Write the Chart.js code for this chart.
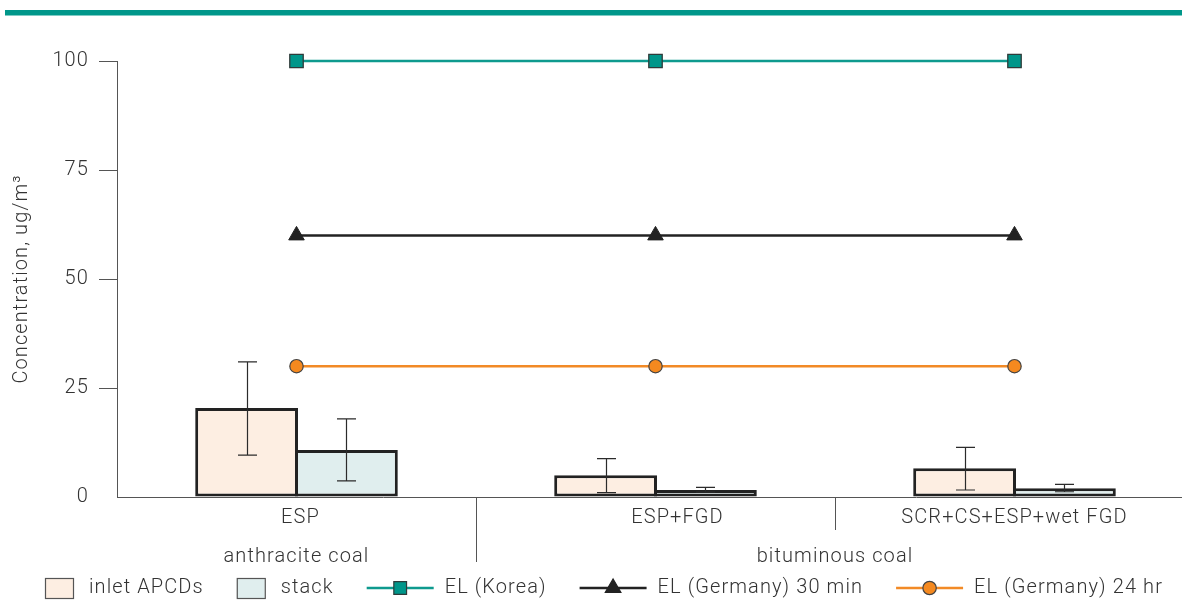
<!DOCTYPE html>
<html>
<head>
<meta charset="utf-8">
<script src="https://cdn.jsdelivr.net/npm/chart.js@4/dist/chart.umd.min.js"></script>
<style>
  html, body { margin: 0; padding: 0; background: #fff; overflow: hidden; }
  #wrap { width: 1182px; height: 601px; position: relative; }
</style>
</head>
<body>
<div id="wrap"><canvas id="c" width="1182" height="601"></canvas></div>
<script>
// Control configurations and coal types
const categories = ['ESP', 'ESP+FGD', 'SCR+CS+ESP+wet FGD'];
const coalTypes = ['anthracite coal', 'bituminous coal'];
const coalFirstIndex = [0, 1];
const coalLastIndex = [0, 2];

// Measured concentrations (ug/m³) with error ranges
const inletValues = [20.4, 5.0, 6.6];
const inletLow    = [9.6, 1.0, 1.6];
const inletHigh   = [31.0, 8.8, 11.4];
const stackValues = [10.8, 1.6, 2.0];
const stackLow    = [3.7, 1.1, 1.2];
const stackHigh   = [17.9, 2.2, 2.9];

// Emission limits
const limitKorea     = [100, 100, 100];
const limitGermany30 = [60, 60, 60];
const limitGermany24 = [30, 30, 30];

const yTickValues = [0, 25, 50, 75, 100];

// Horizontal nudge (px) of each configuration label from its group centre
const categoryLabelNudge = [4, 22, 0];

const FONT = "Roboto, 'Liberation Sans', Arial, sans-serif";
const FONT_SIZE = 20;
const FONT_WEIGHT = 300;
const LETTER_SPACING = '1.1px';
const TEXT = '#333333';
const AXIS = '#555555';
const TEAL = '#0e9a8e';
const ORANGE = '#f28a26';
const DARK = '#222222';

const toPoints = arr => arr.map((v, i) => ({ x: i, y: v }));

// Top decorative band; also sets the tracking used by all canvas text
const bandPlugin = {
  id: 'band',
  beforeDraw(chart) {
    const c = chart.ctx;
    c.letterSpacing = LETTER_SPACING;
    c.save();
    c.fillStyle = '#00978a';
    c.fillRect(5, 10, chart.width - 5, 5.5);
    c.restore();
  }
};

// Error bars on the bar datasets
const errorBarPlugin = {
  id: 'errorBars',
  afterDatasetsDraw(chart) {
    const c = chart.ctx, ys = chart.scales.y, cap = 9.5;
    chart.data.datasets.forEach((ds, di) => {
      if (!ds.errorLow) return;
      const meta = chart.getDatasetMeta(di);
      meta.data.forEach((bar, i) => {
        const x = Math.round(bar.x) + 0.5;
        const y1 = ys.getPixelForValue(ds.errorLow[i]);
        const y2 = ys.getPixelForValue(ds.errorHigh[i]);
        c.save();
        c.strokeStyle = '#2b2b2b';
        c.lineWidth = 1.2;
        c.beginPath();
        c.moveTo(x, y1); c.lineTo(x, y2);
        c.moveTo(x - cap, y1); c.lineTo(x + cap, y1);
        c.moveTo(x - cap, y2); c.lineTo(x + cap, y2);
        c.stroke();
        c.restore();
      });
    });
  }
};

// Configuration labels, separators and coal-type labels below the axis
const groupPlugin = {
  id: 'groups',
  afterDraw(chart) {
    const c = chart.ctx, xs = chart.scales.x, base = chart.chartArea.bottom;
    c.save();
    c.strokeStyle = AXIS;
    c.lineWidth = 1;
    for (let i = 0; i < categories.length - 1; i++) {
      const x = Math.round(xs.getPixelForValue(i + 0.5)) + 0.5;
      const boundary = coalLastIndex.includes(i);
      c.beginPath();
      c.moveTo(x, base);
      c.lineTo(x, base + (boundary ? 65 : 33));
      c.stroke();
    }
    c.fillStyle = TEXT;
    c.font = `${FONT_WEIGHT} ${FONT_SIZE}px ${FONT}`;
    c.textAlign = 'center';
    c.textBaseline = 'middle';
    categories.forEach((name, i) => {
      c.fillText(name, xs.getPixelForValue(i) + categoryLabelNudge[i], base + 21);
    });
    coalTypes.forEach((name, k) => {
      const x = (xs.getPixelForValue(coalFirstIndex[k]) + xs.getPixelForValue(coalLastIndex[k])) / 2;
      c.fillText(name, x, base + 60);
    });
    c.restore();
  }
};

// Legend with bar swatches and line+marker samples
function drawMarker(c, style, x, y, r, fill, stroke) {
  c.save();
  c.fillStyle = fill;
  c.strokeStyle = stroke;
  c.lineWidth = 1.2;
  c.beginPath();
  if (style === 'rect') {
    const s = r * Math.SQRT1_2;
    c.rect(x - s, y - s, 2 * s, 2 * s);
  } else if (style === 'triangle') {
    c.moveTo(x, y - r);
    c.lineTo(x + r * Math.sin(Math.PI / 3), y + r / 2);
    c.lineTo(x - r * Math.sin(Math.PI / 3), y + r / 2);
    c.closePath();
  } else {
    c.arc(x, y, r, 0, Math.PI * 2);
  }
  c.fill();
  c.stroke();
  c.restore();
}

const legendPlugin = {
  id: 'customLegend',
  afterDraw(chart) {
    const c = chart.ctx;
    const y = 588;
    let x = 45;
    c.save();
    c.font = `${FONT_WEIGHT} ${FONT_SIZE}px ${FONT}`;
    c.textBaseline = 'middle';
    c.textAlign = 'left';
    chart.data.datasets.forEach(ds => {
      if (ds.type === 'line') {
        c.strokeStyle = ds.borderColor;
        c.lineWidth = 2.5;
        c.beginPath();
        c.moveTo(x, y); c.lineTo(x + 67, y);
        c.stroke();
        drawMarker(c, ds.pointStyle, x + 33.5, y, ds.legendRadius, ds.pointBackgroundColor, ds.pointBorderColor);
        x += 67 + 11;
      } else {
        c.fillStyle = ds.backgroundColor;
        c.fillRect(x, y - 10, 28, 20);
        c.strokeStyle = '#555';
        c.lineWidth = 1.2;
        c.strokeRect(x + 0.5, y - 9.5, 28, 20);
        x += 28 + 16;
      }
      c.fillStyle = TEXT;
      c.fillText(ds.label, x, y);
      x += c.measureText(ds.label).width + 33;
    });
    c.restore();
  }
};

const chart = new Chart(document.getElementById('c').getContext('2d'), {
  type: 'bar',
  data: {
    datasets: [
      {
        label: 'inlet APCDs',
        data: toPoints(inletValues),
        errorLow: inletLow,
        errorHigh: inletHigh,
        backgroundColor: '#fdeee2',
        borderColor: DARK,
        borderWidth: 3,
        borderSkipped: false,
        categoryPercentage: 0.556,
        barPercentage: 1.03,
        order: 2
      },
      {
        label: 'stack',
        data: toPoints(stackValues),
        errorLow: stackLow,
        errorHigh: stackHigh,
        backgroundColor: '#e0eeee',
        borderColor: DARK,
        borderWidth: 3,
        borderSkipped: false,
        categoryPercentage: 0.556,
        barPercentage: 1.03,
        order: 2
      },
      {
        type: 'line',
        label: 'EL (Korea)',
        data: toPoints(limitKorea),
        borderColor: TEAL,
        borderWidth: 2.5,
        pointStyle: 'rect',
        pointRadius: 9.5,
        legendRadius: 9,
        pointBackgroundColor: '#00968a',
        pointBorderColor: '#2f3b3a',
        pointBorderWidth: 1.3,
        fill: false,
        tension: 0,
        clip: false,
        order: 0
      },
      {
        type: 'line',
        label: 'EL (Germany) 30 min',
        data: toPoints(limitGermany30),
        borderColor: DARK,
        borderWidth: 2.5,
        pointStyle: 'triangle',
        pointRadius: 9,
        legendRadius: 9,
        pointBackgroundColor: DARK,
        pointBorderColor: DARK,
        pointBorderWidth: 1,
        fill: false,
        tension: 0,
        clip: false,
        order: 0
      },
      {
        type: 'line',
        label: 'EL (Germany) 24 hr',
        data: toPoints(limitGermany24),
        borderColor: ORANGE,
        borderWidth: 2.5,
        pointStyle: 'circle',
        pointRadius: 6.7,
        legendRadius: 6.7,
        pointBackgroundColor: '#f5891f',
        pointBorderColor: '#444',
        pointBorderWidth: 1.2,
        fill: false,
        tension: 0,
        clip: false,
        order: 0
      }
    ]
  },
  options: {
    responsive: false,
    animation: false,
    devicePixelRatio: 1,
    events: [],
    layout: { autoPadding: false, padding: { top: 61, left: 0, right: 0, bottom: 0 } },
    plugins: {
      legend: { display: false },
      tooltip: { enabled: false }
    },
    scales: {
      x: {
        type: 'linear',
        offset: false,
        min: -0.5,
        max: -0.5 + 1065 / 359,
        afterBuildTicks: s => { s.ticks = categories.map((_, i) => ({ value: i })); },
        afterFit: s => { s.height = 104; s.paddingLeft = 0; s.paddingRight = 0; },
        grid: { display: false },
        border: { display: true, color: AXIS, width: 1 },
        ticks: { display: false }
      },
      y: {
        min: 0,
        max: 100,
        afterBuildTicks: s => { s.ticks = yTickValues.map(v => ({ value: v })); },
        afterFit: s => { s.width = 117; s.paddingTop = 0; s.paddingBottom = 0; },
        grid: {
          drawOnChartArea: false,
          drawTicks: true,
          tickLength: 18,
          color: ctx => (ctx.tick && ctx.tick.value === 0) ? 'rgba(0,0,0,0)' : AXIS
        },
        border: { display: true, color: AXIS, width: 1 },
        ticks: {
          color: TEXT,
          font: { family: FONT, size: FONT_SIZE, weight: FONT_WEIGHT },
          padding: 10
        },
        title: {
          display: true,
          text: 'Concentration, ug/m³',
          color: TEXT,
          font: { family: FONT, size: FONT_SIZE, weight: FONT_WEIGHT },
          padding: { top: 10, bottom: 0 }
        }
      }
    }
  },
  plugins: [bandPlugin, errorBarPlugin, groupPlugin, legendPlugin]
});
</script>
</body>
</html>
